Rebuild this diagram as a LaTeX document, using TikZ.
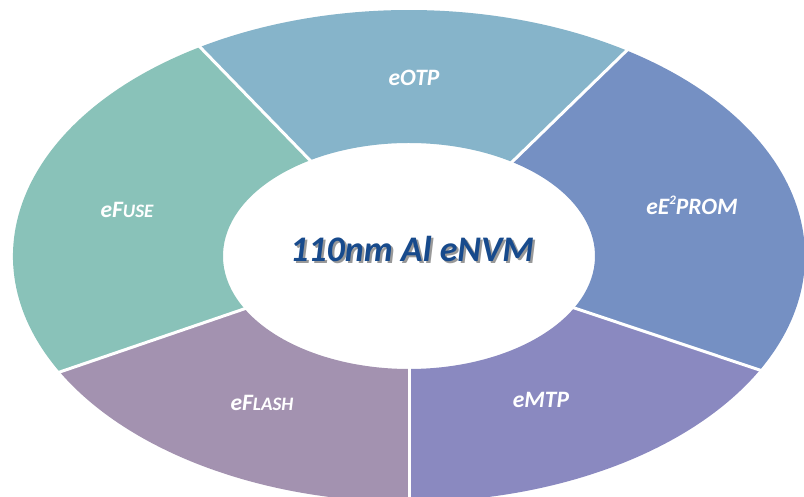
\documentclass[tikz,border=0pt]{standalone}
\usepackage{fontspec}
\setmainfont{Carlito}
\usetikzlibrary{calc}
\definecolor{cOTP}{HTML}{86B4CA}
\definecolor{cFuse}{HTML}{89C2B9}
\definecolor{cEE}{HTML}{7590C3}
\definecolor{cMTP}{HTML}{8A89C0}
\definecolor{cFlash}{HTML}{A392B0}
\definecolor{cTitle}{HTML}{174A8C}
\newcommand{\segpath}[2]{(409pt,241pt) ++(#1:396pt and 246pt) arc[start angle=#1, end angle=#2, x radius=396pt, y radius=246pt] -- ($(409pt,241pt)+(#2:186pt and 113pt)$) arc[start angle=#2, end angle=#1, x radius=186pt, y radius=113pt] -- cycle}
\newcommand{\smc}[1]{{\fontsize{19pt}{20pt}\selectfont #1}}
\newcommand{\titletext}{110nm Al eNVM}
\tikzset{
  seglabel/.style={text=white, font=\fontsize{23.5pt}{26pt}\selectfont\bfseries\itshape, inner sep=0pt},
  divider/.style={white, line width=3pt},
}
\begin{document}
\begin{tikzpicture}[x=1pt,y=1pt]
\clip (0,0) rectangle (804,497);
\fill[white] (0,0) rectangle (804,497);
\coordinate (c) at (409,241);
\fill[cOTP] \segpath{56.5}{122};
\fill[cFuse] \segpath{122}{208};
\fill[cFlash] \segpath{208}{270};
\fill[cMTP] \segpath{270}{332.5};
\fill[cEE] \segpath{332.5}{416.5};
\foreach \a/\n in {122/d1, 56.5/d2, -27.5/d3, -90/d4, -152/d5}{
  \coordinate (\n i) at ($(c)+(\a:184pt and 111pt)$);
  \coordinate (\n o) at ($(c)+(\a:400pt and 250pt)$);
  \draw[divider] (\n i) -- (\n o);
}
\node[seglabel] (otp) at (414,419) {eOTP};
\node[seglabel] (fuse) at (127,287) {eF\smc{USE}};
\node[seglabel] (ee) at (692,292) {eE\raisebox{0.42em}{\fontsize{13pt}{13pt}\selectfont 2}PROM};
\node[seglabel] (flash) at (262,94) {eF\smc{LASH}};
\node[seglabel] (mtp) at (541,97) {eMTP};
\node[font=\fontsize{36pt}{40pt}\selectfont\bfseries\itshape, inner sep=0pt] (title) at (412,247)
  {\rlap{\hspace{2.2pt}\raisebox{-2.2pt}{\textcolor{black!40}{\titletext}}}\textcolor{cTitle}{\titletext}};
\end{tikzpicture}
\end{document}
